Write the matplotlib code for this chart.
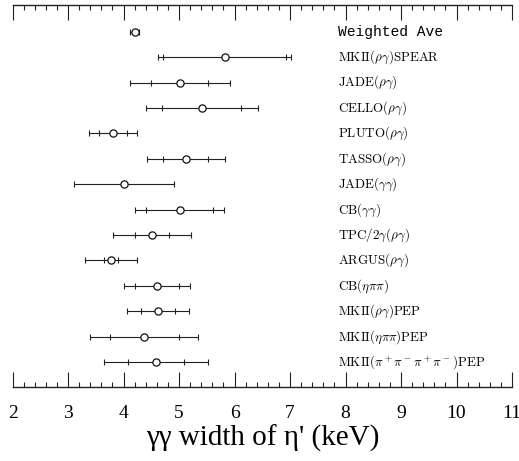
import numpy as np
import matplotlib
matplotlib.use("Agg")
import matplotlib.pyplot as plt
from matplotlib.ticker import MultipleLocator

# measurements, top to bottom
labels = [r"Weighted Ave",
          r"$\mathrm{MKII}(\rho\gamma)\mathrm{SPEAR}$",
          r"$\mathrm{JADE}(\rho\gamma)$",
          r"$\mathrm{CELLO}(\rho\gamma)$",
          r"$\mathrm{PLUTO}(\rho\gamma)$",
          r"$\mathrm{TASSO}(\rho\gamma)$",
          r"$\mathrm{JADE}(\gamma\gamma)$",
          r"$\mathrm{CB}(\gamma\gamma)$",
          r"$\mathrm{TPC/2}\gamma(\rho\gamma)$",
          r"$\mathrm{ARGUS}(\rho\gamma)$",
          r"$\mathrm{CB}(\eta\pi\pi)$",
          r"$\mathrm{MKII}(\rho\gamma)\mathrm{PEP}$",
          r"$\mathrm{MKII}(\eta\pi\pi)\mathrm{PEP}$",
          r"$\mathrm{MKII}(\pi^+\pi^-\pi^+\pi^-)\mathrm{PEP}$"]
width = [4.20, 5.82, 5.01, 5.41, 3.81, 5.12, 4.01, 5.01, 4.51, 3.77, 4.60, 4.62, 4.37, 4.58]
stat_err = [np.nan, 1.11, 0.51, 0.71, 0.26, 0.41, np.nan, 0.60, 0.30, 0.13, 0.40, 0.31, 0.62, 0.50]
tot_err = [0.08, 1.20, 0.90, 1.01, 0.43, 0.70, 0.90, 0.80, 0.70, 0.47, 0.60, 0.56, 0.97, 0.94]


def main():
    fig = plt.figure(figsize=(5.19, 4.61), dpi=100)
    ax = fig.add_axes([0.0243, 0.161, 0.9622, 0.828])

    y = np.arange(len(width))
    w = np.array(width)
    se = np.array(stat_err)
    te = np.array(tot_err)

    ax.errorbar(w, y, xerr=te, fmt='none', ecolor='#222222', elinewidth=0.8,
                capsize=2.3, capthick=0.8)
    m = ~np.isnan(se)
    ax.errorbar(w[m], y[m], xerr=se[m], fmt='none', ecolor='#222222', elinewidth=0,
                capsize=2.3, capthick=0.8)
    ax.plot(w, y, 'o', ms=5.2, mfc='white', mec='#111111', mew=0.9, zorder=5)

    for i, lab in enumerate(labels):
        if i == 0:
            ax.text(7.86, y[i], lab, ha='left', va='center', fontsize=10.5,
                    family='Liberation Mono')
        else:
            ax.text(7.86, y[i], lab, ha='left', va='center', fontsize=9.4,
                    math_fontfamily='cm')

    ax.set_xlim(2, 11)
    ax.set_ylim(13.97, -1.05)
    ax.xaxis.set_major_locator(MultipleLocator(1))
    ax.xaxis.set_minor_locator(MultipleLocator(0.2))
    ax.tick_params(axis='x', which='both', direction='in', top=True, bottom=True,
                   labeltop=False, width=0.8, color='#222222')
    ax.tick_params(axis='x', which='major', length=11, labelsize=14, pad=13)
    ax.tick_params(axis='x', which='minor', length=3.5)
    ax.set_yticks([])
    for lbl in ax.get_xticklabels():
        lbl.set_family('Liberation Serif')
    ax.spines['left'].set_visible(False)
    ax.spines['right'].set_visible(False)
    for s in ('top', 'bottom'):
        ax.spines[s].set_linewidth(1.0)
        ax.spines[s].set_color('#222222')

    ax.set_xlabel("γγ width of η' (keV)", fontsize=21,
                  family='Liberation Serif', labelpad=2)

    fig.savefig('out.png', dpi=100)


if __name__ == "__main__":
    main()
